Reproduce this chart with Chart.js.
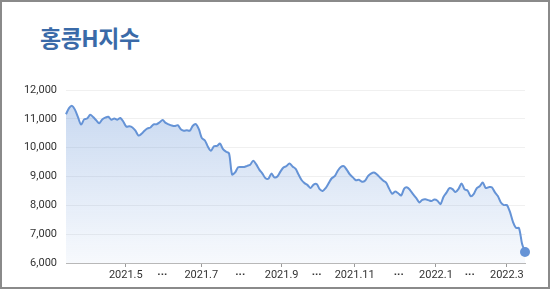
<!DOCTYPE html>
<html lang="ko">
<head>
<meta charset="utf-8">
<title>홍콩H지수</title>
<script src="https://cdn.jsdelivr.net/npm/chart.js@4/dist/chart.umd.min.js"></script>
<style>
  body { margin: 0; background: #fff; }
  #wrap { position: relative; width: 550px; height: 289px; overflow: hidden; }
  #chart { position: absolute; left: 0; top: 0; }
  #frame {
    position: absolute; left: 0; top: 0; width: 550px; height: 289px;
    box-sizing: border-box; border: 2px solid #8a8a8a; pointer-events: none;
  }
  #title {
    position: absolute; left: 40px; top: 22px; margin: 0;
    font-family: "Noto Sans CJK KR", sans-serif; font-weight: 700;
    font-size: 23px; line-height: 30px; color: #3a6aa8; letter-spacing: -0.5px;
  }
</style>
</head>
<body>
<div id="wrap">
  <h1 id="title">홍콩H지수</h1>
  <canvas id="chart" width="550" height="289"></canvas>
  <div id="frame"></div>
</div>
<script>
// 홍콩H지수 (HSCEI) 2021.3 중순 ~ 2022.3 중순, 일정 간격으로 읽은 값
const indexValues = [
  11160, 11370, 11450, 11310, 11050, 10800, 10980, 11010, 11140, 11060,
  10950, 10850, 10980, 11040, 11070, 10970, 11010, 10970, 11030, 10900,
  10730, 10740, 10700, 10590, 10420, 10480, 10590, 10670, 10700, 10810,
  10810, 10880, 10960, 10860, 10810, 10770, 10750, 10780, 10640, 10590,
  10600, 10590, 10760, 10820, 10640, 10330, 10250, 10030, 9890, 10050,
  10060, 10140, 9950, 9860, 9800, 9070, 9140, 9320, 9330, 9330,
  9370, 9410, 9550, 9420, 9240, 9110, 8950, 8920, 9100, 8970,
  9000, 9170, 9310, 9360, 9450, 9350, 9270, 9070, 8880, 8770,
  8700, 8600, 8720, 8740, 8560, 8500, 8600, 8770, 8940, 9010,
  9200, 9330, 9360, 9230, 9070, 8970, 8870, 8890, 8820, 8850,
  9010, 9100, 9140, 9070, 8960, 8860, 8790, 8580, 8400, 8480,
  8420, 8340, 8580, 8620, 8520, 8380, 8250, 8100, 8190, 8210,
  8180, 8150, 8200, 8160, 8040, 8290, 8440, 8600, 8560, 8460,
  8570, 8760, 8550, 8510, 8320, 8390, 8590, 8660, 8790, 8600,
  8630, 8630, 8460, 8320, 8100, 8010, 8010, 7780, 7430, 7220,
  7210, 6680, 6380
];

// x축 라벨 (데이터 순번 기준 위치)
const tickPositions = [19.8, 31.9, 44.8, 57.7, 71.4, 83.0, 95.6, 110.2, 122.5, 133.7, 146.0];
const tickLabels = ['2021.5', '···', '2021.7', '···', '2021.9', '···', '2021.11', '···', '2022.1', '···', '2022.3'];

const yTicks = [6000, 7000, 8000, 9000, 10000, 11000, 12000];

const points = indexValues.map((v, i) => ({ x: i, y: v }));
const lastIdx = indexValues.length - 1;

const lineColor = '#6593d6';
const labelFont = 'Roboto, "Noto Sans CJK KR", sans-serif';

function areaFill(context) {
  const chart = context.chart;
  const area = chart.chartArea;
  if (!area) return 'rgba(101,147,214,0.2)';
  const g = chart.ctx.createLinearGradient(0, area.top, 0, area.bottom);
  g.addColorStop(0, 'rgba(101,147,214,0.38)');
  g.addColorStop(1, 'rgba(101,147,214,0.05)');
  return g;
}

new Chart(document.getElementById('chart'), {
  type: 'line',
  data: {
    datasets: [{
      data: points,
      borderColor: lineColor,
      borderWidth: 2,
      backgroundColor: areaFill,
      fill: 'start',
      tension: 0.3,
      clip: false,
      pointRadius: ctx => ctx.dataIndex === lastIdx ? 5 : 0,
      pointBackgroundColor: lineColor,
      pointBorderColor: lineColor,
      pointBorderWidth: 0,
      pointHoverRadius: 0
    }]
  },
  options: {
    responsive: false,
    animation: false,
    events: [],
    layout: { padding: { top: 90, right: 25, bottom: 0, left: 0 } },
    plugins: { legend: { display: false }, tooltip: { enabled: false } },
    scales: {
      x: {
        type: 'linear',
        min: 0,
        max: lastIdx,
        afterBuildTicks: axis => { axis.ticks = tickPositions.map(v => ({ value: v })); },
        afterFit: scale => { scale.height = 26; },
        ticks: {
          autoSkip: false,
          maxRotation: 0,
          padding: 2,
          color: '#333',
          font: ctx => (ctx.index % 2 === 0
            ? { family: labelFont, size: 11 }
            : { family: labelFont, size: 11, weight: 'bold' }),
          callback: (v, i) => tickLabels[i]
        },
        grid: {
          drawOnChartArea: false,
          tickLength: 4,
          tickColor: ctx => (ctx.index % 2 === 0 ? '#999' : 'rgba(0,0,0,0)')
        },
        border: { color: '#b8b8b8', width: 1 }
      },
      y: {
        min: 6000,
        max: 12000,
        afterBuildTicks: axis => { axis.ticks = yTicks.map(v => ({ value: v })); },
        afterFit: scale => { scale.width = 66; },
        ticks: {
          padding: 9,
          color: '#333',
          font: { family: labelFont, size: 11 },
          callback: v => v.toLocaleString('en-US')
        },
        grid: { color: '#f0f0f0', drawTicks: false },
        border: { display: false }
      }
    }
  }
});
</script>
</body>
</html>
